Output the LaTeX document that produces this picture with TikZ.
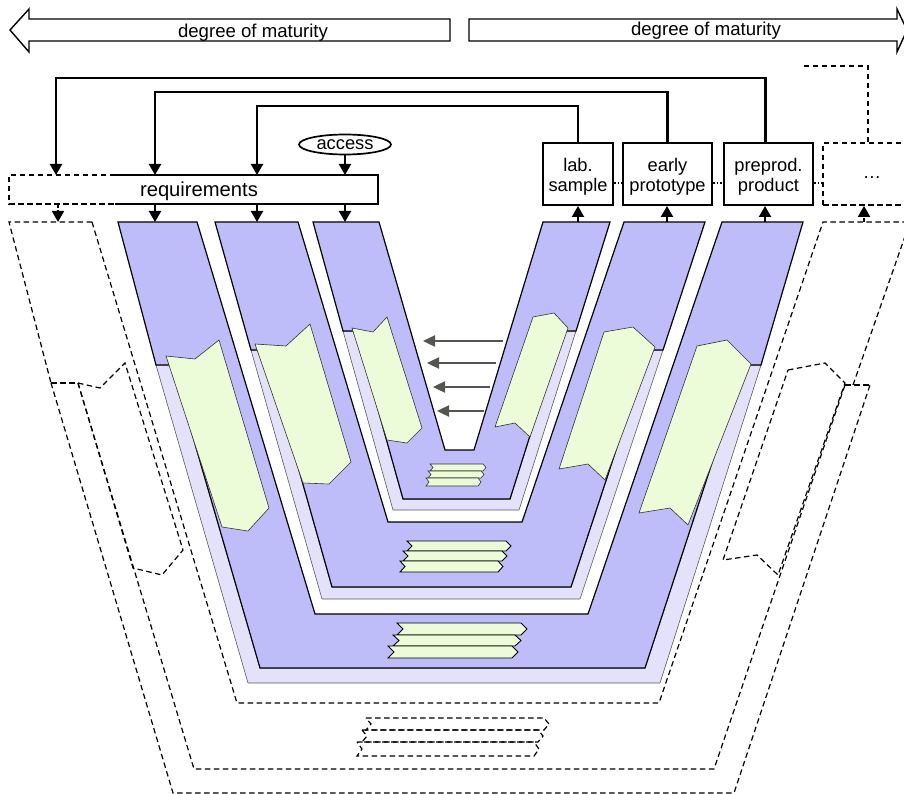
\documentclass[tikz,border=0pt]{standalone}
\usepackage{fontspec}
\setmainfont{Liberation Sans}
\usetikzlibrary{arrows.meta,calc,shapes.geometric}
\definecolor{vpurple}{RGB}{191,188,250}
\definecolor{vlav}{RGB}{228,226,250}
\definecolor{vgreen}{RGB}{236,252,216}
\definecolor{varrow}{RGB}{85,85,80}
\newcommand\vstrip[6]{\draw[#1] (#2,#4) -- (#3,#4) -- ({#3+#6},{#4+#5/2}) -- (#3,{#4+#5}) -- (#2,{#4+#5}) -- ({#2+#6},{#4+#5/2}) -- cycle;}
\tikzset{
  purp/.style={fill=vpurple,draw=black,line width=1.2pt,line join=miter},
  lav/.style={fill=vlav,draw=black!65,line width=0.6pt},
  grn/.style={fill=vgreen,draw=black!80,line width=0.6pt},
  grnb/.style={fill=vgreen,draw=black,line width=0.9pt},
  dsh/.style={draw=black,line width=1.2pt,dash pattern=on 5.5pt off 3.5pt},
  dshb/.style={draw=black,line width=2pt,dash pattern=on 5.5pt off 3.5pt},
  conn/.style={line width=2.4pt,-{Triangle[length=11pt,width=12pt]}},
  sconn/.style={line width=2.2pt,-{Triangle[length=11pt,width=12pt]}},
  dconn/.style={line width=1.8pt,dash pattern=on 4pt off 2pt,-{Triangle[length=11pt,width=12pt]}},
  garrow/.style={draw=varrow,line width=2.4pt,-{Triangle[length=12pt,width=11pt]}},
  rbox/.style={draw,line width=2pt,inner sep=0pt,minimum height=62pt},
  btext/.style={align=center,inner sep=0pt},
  bigarrow/.style={draw,line width=1.4pt,fill=white,line join=miter}
}
\begin{document}
\begin{tikzpicture}[x=1pt,y=-1pt,font=\fontsize{18.3}{20}\selectfont]
\useasboundingbox (0,0) rectangle (904,794);
\clip (0,0) rectangle (904,794);

% ---- maturity arrows
\draw[bigarrow] (450,19) -- (29,19) -- (29,9) -- (10,30) -- (29,52) -- (29,41) -- (450,41) -- cycle;
\node[anchor=base] (matl) at (253,38) {\fontsize{18.6}{20}\selectfont degree of maturity};
\draw[bigarrow] (469,19) -- (897,19) -- (897,9) -- (907,30) -- (897,52) -- (897,41) -- (469,41) -- cycle;
\node[anchor=base] (matr) at (706,35.5) {\fontsize{18.6}{20}\selectfont degree of maturity};

% ---- dashed outer V (shape 4)
\draw[dsh] (92,222) -- (9,222) -- (51,383);
\draw[dshb] (51,383) -- (78,383);
\draw[dsh] (51,383) -- (173,793) -- (734,793) -- (870,385);
\draw[dsh] (853,385) -- (910,222);
\draw[dsh] (78,383) -- (194,769) -- (714,769) -- (845,385);
\draw[dshb] (845,385) -- (870,385);
\draw[dsh] (92,222) -- (237,703) -- (659,703) -- (823,222) -- (910,222);
\draw[dsh] (78,383) -- (100,388) -- (125,363) -- (183,550) -- (162,575) -- (133,568) -- cycle;
\draw[dsh] (788,370) -- (825,363) -- (845,383) -- (778,575) -- (757,555) -- (723,560) -- cycle;
\vstrip{dsh}{366}{544}{718}{12}{5}
\vstrip{dsh}{362}{538}{730}{12}{5}
\vstrip{dsh}{357}{534}{742}{14}{5}

% ---- shape 3
\draw[lav] (156,365) -- (248,683) -- (660,683) -- (761,365) -- (744,365) -- (645,668) -- (260,668) -- (172,365) -- cycle;
\draw[purp] (118,222) -- (197,222) -- (315,614) -- (588,614) -- (722,222) -- (803,222) -- (761,365) -- (744,365) -- (645,668) -- (260,668) -- (172,365) -- (156,365) -- cycle;
% ---- shape 2
\draw[lav] (251,350) -- (322,599) -- (580,599) -- (663,350) -- (649,350) -- (571,587) -- (332,587) -- (265,350) -- cycle;
\draw[purp] (215,222) -- (298,222) -- (388,522) -- (522,522) -- (624,222) -- (705,222) -- (663,350) -- (649,350) -- (571,587) -- (332,587) -- (265,350) -- (251,350) -- cycle;
% ---- shape 1
\draw[lav] (343,331) -- (393,510) -- (519,510) -- (576,331) -- (563,331) -- (510,499) -- (403,499) -- (356,331) -- cycle;
\draw[purp] (313,222) -- (379,222) -- (445,450) -- (474,450) -- (543,222) -- (610,222) -- (576,331) -- (563,331) -- (510,499) -- (403,499) -- (356,331) -- (343,331) -- cycle;

% ---- green process steps
\draw[grn] (352,328) -- (373,332) -- (387,317) -- (422,428) -- (407,443) -- (387,440) -- cycle;
\draw[grn] (255,344) -- (286,346) -- (310,324) -- (351,462) -- (329,484) -- (303,483) -- cycle;
\draw[grn] (166,356) -- (195,359) -- (219,340) -- (269,508) -- (248,531) -- (222,527) -- cycle;
\draw[grn] (533,317) -- (554,313) -- (568,328) -- (530,437) -- (515,423) -- (495,427) -- cycle;
\draw[grn] (604,332) -- (633,327) -- (655,347) -- (605,480) -- (588,464) -- (559,469) -- cycle;
\draw[grn] (697,346) -- (727,340) -- (751,364) -- (688,525) -- (670,508) -- (639,513) -- cycle;

\vstrip{grn}{430}{483}{464}{7}{3}
\vstrip{grn}{428}{481}{471}{7}{3}
\vstrip{grn}{426}{478}{478}{8}{3}
\vstrip{grnb}{407}{506}{541}{10}{5}
\vstrip{grnb}{403}{502}{551}{10}{5}
\vstrip{grnb}{400}{498}{561}{11}{5}
\vstrip{grnb}{397}{521}{623}{12}{6}
\vstrip{grnb}{393}{515}{635}{11}{6}
\vstrip{grnb}{388}{512}{646}{12}{6}

% ---- gray feedback arrows
\draw[garrow] (503,341) -- (423,341);
\draw[garrow] (496,363) -- (427,363);
\draw[garrow] (490,387) -- (433,387);
\draw[garrow] (484,411) -- (437,411);

% ---- requirements
\draw[line width=2pt] (115,175) -- (378,175) -- (378,204) -- (115,204);
\draw[dsh,line width=1.7pt] (115,175) -- (9,175) -- (9,204) -- (115,204);
\node[anchor=base] (reqtext) at (199,197) {\fontsize{20.2}{20}\selectfont requirements};
\coordinate (rq0) at (56,175);
\coordinate (rq1) at (155,175);
\coordinate (rq2) at (257,175);
\coordinate (rq3) at (345,175);
\coordinate (rb0) at (58,204);
\coordinate (rb1) at (155,204);
\coordinate (rb2) at (257,204);
\coordinate (rb3) at (345,204);
\coordinate (v4l) at (58,222);
\coordinate (v3l) at (155,222);
\coordinate (v2l) at (257,222);
\coordinate (v1l) at (345,222);

\node[draw,ellipse,line width=1.7pt,minimum width=92pt,minimum height=20pt,inner sep=0pt] (access) at (345,144.5) {access};

% ---- result boxes
\node[rbox,minimum width=70pt] (lab) at (578,174) {};
\node[btext] (labt) at (578,177) {lab.\\sample};
\node[rbox,minimum width=89pt] (early) at (667.5,174) {};
\node[btext] (earlyt) at (667.5,177) {early\\prototype};
\node[rbox,minimum width=89pt] (preprod) at (768.5,174) {};
\node[btext] (preprodt) at (768.5,177) {preprod.\\product};
\node[draw,dsh,line width=1.7pt,minimum width=98pt,minimum height=62pt,inner sep=0pt] (more) at (872,174) {};
\node[inner sep=0pt] (moret) at (872,178) {\dots};
\coordinate (v1r) at (578,222);
\coordinate (v2r) at (667,222);
\coordinate (v3r) at (765,222);
\coordinate (v4r) at (864,222);
\coordinate (moreend) at (804,66);

\draw[dotted,line width=1.7pt] ($(lab.east)+(0,9)$) -- ($(early.west)+(0,9)$);
\draw[dotted,line width=1.7pt] ($(early.east)+(0,9)$) -- ($(preprod.west)+(0,9)$);
\draw[dotted,line width=1.7pt] ($(preprod.east)+(0,9)$) -- ($(more.west)+(0,9)$);

% ---- feedback connectors
\draw[conn] (lab.north) -- ++(0,-36) -| (rq2);
\draw[conn] (early.north) -- ++(0,-50) -| (rq1);
\draw[conn] ($(preprod.north)+(-3,0)$) -- ++(0,-64) -| (rq0);
\draw[dshb,line width=2pt] ($(more.north)+(-4,0)$) |- (moreend);
\draw[sconn] (access.south) -- (rq3);

\draw[sconn] (rb1) -- (v3l);
\draw[sconn] (rb2) -- (v2l);
\draw[sconn] (rb3) -- (v1l);
\draw[dconn] (rb0) -- (v4l);

\draw[sconn] (v1r) -- (lab.south);
\draw[sconn] (v2r) -- (early.south -| v2r);
\draw[sconn] (v3r) -- (preprod.south -| v3r);
\draw[dconn] (v4r) -- (more.south -| v4r);
\end{tikzpicture}
\end{document}
